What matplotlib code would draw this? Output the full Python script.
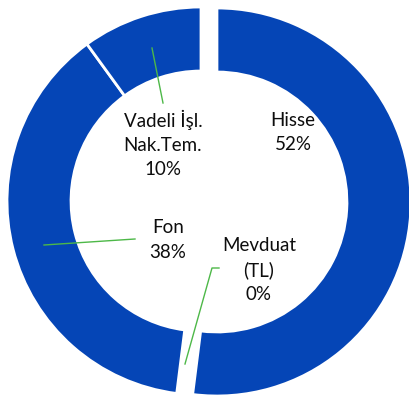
import matplotlib.pyplot as plt

labels = ['Hisse', 'Mevduat\n(TL)', 'Fon', 'Vadeli İşl.\nNak.Tem.']
values = [52, 0, 38, 10]
pct = ['52%', '0%', '38%', '10%']

blue = '#0545B6'
green = '#4DB848'

W, H = 410, 403
fig = plt.figure(figsize=(4.10, 4.03), dpi=100)
ax = fig.add_axes([0, 0, 1, 1])

cx, cy, r = 201, H - 201, 194
# explode offset is in data units (pixels here)
explode = [16, 0, 0, 0]
ax.pie(values, startangle=90, counterclock=False, colors=[blue] * 4,
       radius=r, center=(cx, cy), explode=explode, frame=True,
       wedgeprops=dict(width=r * 0.33, edgecolor='white', linewidth=2))
ax.set_xlim(0, W)
ax.set_ylim(0, H)
ax.axis('off')

# label positions in image pixels
pos = [(293, 133), (259, 270), (168, 240), (163, 144)]
for lab, p, (x, y) in zip(labels, pct, pos):
    ax.text(x, H - y, lab + '\n' + p, ha='center', va='center',
            fontsize=13.5, family='Lato', linespacing=1.5, color='#0d0d0d')

# leader lines
def leader(pts):
    xs = [p[0] for p in pts]
    ys = [H - p[1] for p in pts]
    ax.plot(xs, ys, color=green, lw=1)

leader([(163, 103), (152, 48)])
leader([(135, 239), (44, 245)])
leader([(219, 268), (212, 268), (185, 364)])

fig.savefig('out.png', dpi=100)
